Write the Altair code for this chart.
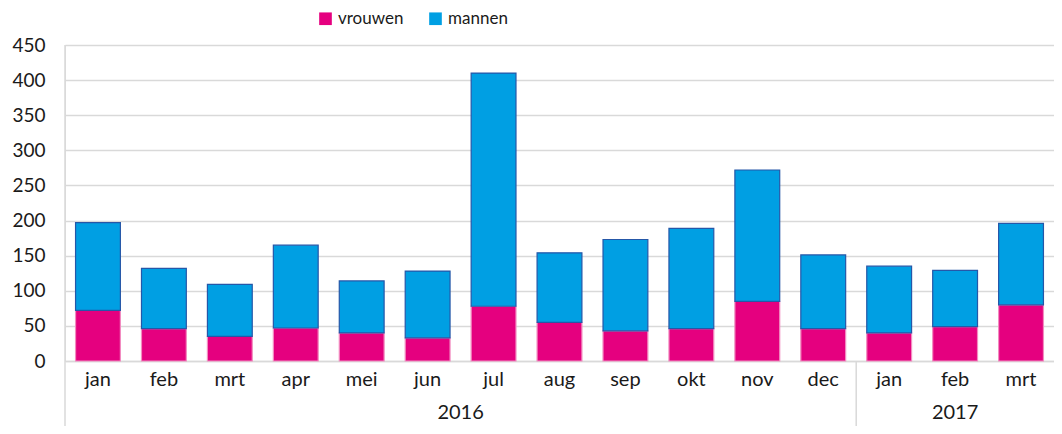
import altair as alt
import pandas as pd

months = ["jan", "feb", "mrt", "apr", "mei", "jun", "jul", "aug", "sep", "okt", "nov", "dec", "jan", "feb", "mrt"]
years = ["2016"] * 12 + ["2017"] * 3
vrouwen = [72, 46, 35, 47, 40, 33, 78, 55, 43, 46, 85, 46, 40, 49, 80]
mannen = [125, 86, 74, 118, 74, 95, 332, 99, 130, 143, 187, 105, 95, 80, 116]

year_labels = ["2016", "2017"]
year_mid = [6, 13.5]      # centre of each year group, in months
sep_pos = [0, 12]         # group boundaries, in months

W, H = 989, 316
FONT = "Lato"
TXT = "#1a1a1a"

keys = [f"{y}-{m}" for y, m in zip(years, months)]
rows = []
for k, v, m in zip(keys, vrouwen, mannen):
    rows.append({"key": k, "sex": "vrouwen", "value": v, "ord": 0})
    rows.append({"key": k, "sex": "mannen", "value": m, "ord": 1})
df = pd.DataFrame(rows)

bars = alt.Chart(df).mark_bar(strokeWidth=1.2).encode(
    x=alt.X("key:N", sort=keys,
            scale=alt.Scale(paddingInner=0.32, paddingOuter=0.16),
            axis=alt.Axis(labelExpr="split(datum.value, '-')[1]", labelAngle=0, ticks=False,
                          domainColor="#d9d9d9", domainWidth=1.5, title=None,
                          labelFontSize=20, labelPadding=8, labelColor=TXT, labelFont=FONT)),
    y=alt.Y("value:Q", stack="zero",
            scale=alt.Scale(domain=[0, 450], nice=False),
            axis=alt.Axis(values=list(range(0, 451, 50)), grid=True, gridColor="#d9d9d9",
                          gridWidth=1.5, domain=False, ticks=False, title=None,
                          labelFontSize=19, labelPadding=20, labelColor=TXT, labelFont=FONT)),
    color=alt.Color("sex:N",
                    scale=alt.Scale(domain=["vrouwen", "mannen"], range=["#E5007F", "#009FE3"]),
                    legend=alt.Legend(orient="none", legendX=252, legendY=-35, direction="horizontal",
                                      title=None, symbolType="square", symbolSize=160,
                                      labelFontSize=17, labelFont=FONT, labelColor=TXT,
                                      columnPadding=23, symbolStrokeWidth=0)),
    stroke=alt.Stroke("sex:N",
                      scale=alt.Scale(domain=["vrouwen", "mannen"], range=["#F28CC0", "#2557A8"]),
                      legend=None),
    order=alt.Order("ord:Q"),
)

ydf = pd.DataFrame({"year": year_labels, "mid": year_mid})
ytext = alt.Chart(ydf).mark_text(fontSize=20, font=FONT, color=TXT, baseline="middle").encode(
    x=alt.X("mid:Q", scale=alt.Scale(domain=[0, 15], nice=False, zero=True), axis=None),
    y=alt.value(H + 52),
    text="year:N",
)

sdf = pd.DataFrame({"pos": sep_pos, "top": [0, H]})
seps = alt.Chart(sdf).mark_rule(color="#d9d9d9", strokeWidth=1.5).encode(
    x=alt.X("pos:Q", scale=alt.Scale(domain=[0, 15], nice=False, zero=True), axis=None),
    y=alt.Y("top:Q", scale=None),
    y2=alt.value(H + 65),
)

chart = alt.layer(seps, bars, ytext).resolve_scale(x="independent").properties(
    width=W, height=H,
    padding={"left": 57, "top": 37, "right": 0, "bottom": 65},
    autosize=alt.AutoSizeParams(type="none"),
).configure_view(stroke=None).configure(font=FONT)

chart.save("out.html", embed_options={"renderer": "svg", "actions": False})
